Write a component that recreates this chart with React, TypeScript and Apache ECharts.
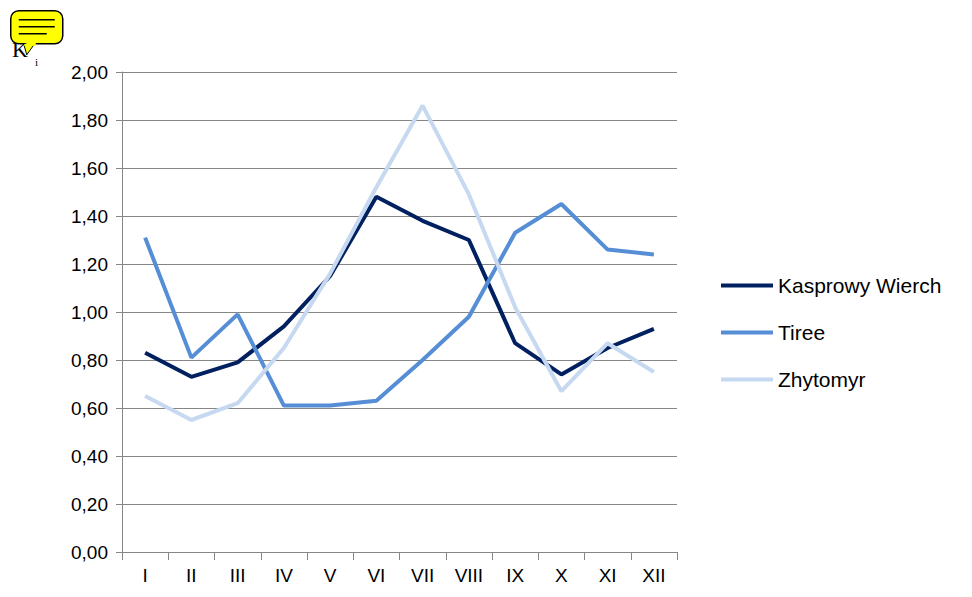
import { useEffect, useRef } from 'react';
import * as echarts from 'echarts';

const months = ['I', 'II', 'III', 'IV', 'V', 'VI', 'VII', 'VIII', 'IX', 'X', 'XI', 'XII'];
const kasprowy = [0.83, 0.73, 0.79, 0.94, 1.15, 1.48, 1.38, 1.3, 0.87, 0.74, 0.85, 0.93];
const tiree = [1.31, 0.81, 0.99, 0.61, 0.61, 0.63, 0.8, 0.98, 1.33, 1.45, 1.26, 1.24];
const zhytomyr = [0.65, 0.55, 0.62, 0.85, 1.16, 1.52, 1.86, 1.49, 1.02, 0.67, 0.87, 0.75];

const font = 'Liberation Sans, Arial, sans-serif';

export default function App() {
  const chartRef = useRef<HTMLDivElement>(null);

  useEffect(() => {
    if (!chartRef.current) return;
    const chart = echarts.init(chartRef.current, null, { renderer: 'svg' });

    const mk = (name: string, data: number[], color: string) => ({
      name,
      type: 'line',
      data,
      symbol: 'none',
      lineStyle: { color, width: 4 },
      itemStyle: { color },
    });

    chart.setOption({
      animation: false,
      grid: { left: 114, right: 287, top: 64, bottom: 37 },
      legend: {
        orient: 'vertical',
        left: 708,
        top: 262,
        itemWidth: 52,
        itemHeight: 4,
        itemGap: 26,
        icon: 'rect',
        textStyle: { color: '#000', fontSize: 21, fontFamily: font },
        data: ['Kasprowy Wierch', 'Tiree', 'Zhytomyr'],
      },
      xAxis: {
        type: 'category',
        data: months,
        boundaryGap: true,
        axisLine: { lineStyle: { color: '#868686' } },
        axisTick: { show: true, length: 8, lineStyle: { color: '#868686' } },
        axisLabel: { color: '#000', fontSize: 19, fontFamily: font, margin: 14 },
      },
      yAxis: {
        type: 'value',
        min: 0,
        max: 2,
        interval: 0.2,
        axisLine: { show: true, lineStyle: { color: '#868686' } },
        axisTick: { show: true, length: 6, lineStyle: { color: '#868686' } },
        axisLabel: {
          color: '#000',
          fontSize: 19,
          fontFamily: font,
          margin: 14,
          formatter: (v: number) => v.toFixed(2).replace('.', ','),
        },
        splitLine: { lineStyle: { color: '#868686' } },
      },
      graphic: [
        { type: 'text', left: 4, top: 30, z: 1, style: { text: 'K', font: '22px "Liberation Serif", serif', fill: '#000' } },
        { type: 'text', left: 27, top: 48, z: 1, style: { text: 'i', font: '11px "Liberation Serif", serif', fill: '#000' } },
        {
          type: 'group',
          left: 2,
          top: 2,
          z: 10,
          children: [
            { type: 'polygon', shape: { points: [[12, 30], [16, 44], [26, 30]] }, style: { fill: '#ffff00', stroke: '#000', lineWidth: 1 } },
            { type: 'rect', shape: { x: 0, y: 0, width: 52, height: 33, r: 8 }, style: { fill: '#ffff00', stroke: '#000', lineWidth: 1.5 } },
            { type: 'rect', shape: { x: 13, y: 31, width: 12, height: 4 }, style: { fill: '#ffff00' } },
            { type: 'line', shape: { x1: 8, y1: 9, x2: 44, y2: 9 }, style: { stroke: '#000', lineWidth: 1.5 } },
            { type: 'line', shape: { x1: 8, y1: 16, x2: 44, y2: 16 }, style: { stroke: '#000', lineWidth: 1.5 } },
            { type: 'line', shape: { x1: 8, y1: 23, x2: 36, y2: 23 }, style: { stroke: '#000', lineWidth: 1.5 } },
          ],
        },
      ],
      series: [
        mk('Kasprowy Wierch', kasprowy, '#002060'),
        mk('Tiree', tiree, '#558ED5'),
        mk('Zhytomyr', zhytomyr, '#C6D9F1'),
      ],
    });

    return () => chart.dispose();
  }, []);

  return <div ref={chartRef} style={{ width: 956, height: 581 }} />;
}
